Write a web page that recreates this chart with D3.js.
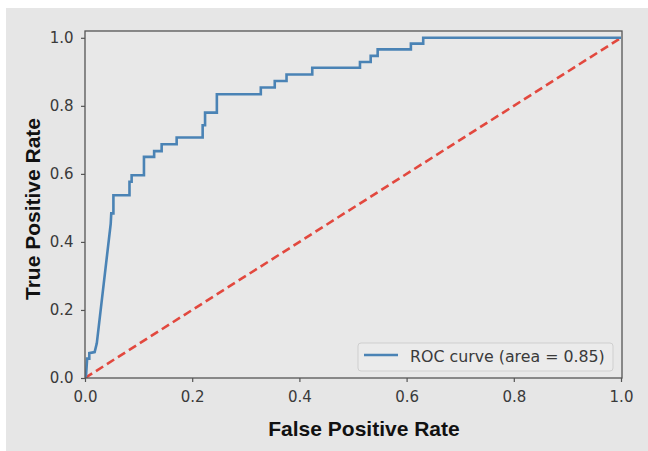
<!DOCTYPE html>
<html>
<head>
<meta charset="utf-8">
<script src="https://cdn.jsdelivr.net/npm/d3@7"></script>
<style>
  html, body { margin: 0; padding: 0; background: #ffffff; }
  svg { display: block; }
</style>
</head>
<body>
<svg id="chart" width="648" height="451"></svg>
<script>
// ---- data ----
const fpr = [0, 0.002, 0.004, 0.008, 0.008, 0.018, 0.022, 0.048, 0.049, 0.053, 0.053,
  0.083, 0.083, 0.087, 0.087, 0.110, 0.110, 0.129, 0.129, 0.143, 0.143, 0.171, 0.171,
  0.2195, 0.2195, 0.224, 0.224, 0.246, 0.246, 0.328, 0.328, 0.354, 0.354, 0.376, 0.376,
  0.424, 0.424, 0.513, 0.513, 0.533, 0.533, 0.546, 0.546, 0.608, 0.608, 0.631, 0.631, 1.0];
const tpr = [0, 0.008, 0.057, 0.057, 0.073, 0.076, 0.102, 0.454, 0.484, 0.484, 0.537,
  0.537, 0.577, 0.577, 0.596, 0.596, 0.650, 0.650, 0.667, 0.667, 0.687, 0.687, 0.707,
  0.707, 0.743, 0.743, 0.780, 0.780, 0.834, 0.834, 0.854, 0.854, 0.873, 0.873, 0.892,
  0.892, 0.912, 0.912, 0.929, 0.929, 0.947, 0.947, 0.966, 0.966, 0.983, 0.983, 1.0, 1.0];
const chanceX = [0, 1];
const chanceY = [0, 1];
const xTicks = [0.0, 0.2, 0.4, 0.6, 0.8, 1.0];
const yTicks = [0.0, 0.2, 0.4, 0.6, 0.8, 1.0];
const rocArea = 0.85;
const xLabel = "False Positive Rate";
const yLabel = "True Positive Rate";

// ---- layout ----
const svg = d3.select("#chart");
const W = 648, H = 451;
const plot = { left: 85, right: 622, top: 31, bottom: 378 };
const bg = "#e6e6e6";

svg.append("rect").attr("x", 6).attr("y", 8).attr("width", W - 6).attr("height", H - 8)
  .attr("fill", bg);

const x = d3.scaleLinear().domain([0, 1]).range([plot.left, 621]);
const y = d3.scaleLinear().domain([0, 1.02]).range([plot.bottom, plot.top]);

// plot area
svg.append("rect").attr("x", plot.left).attr("y", plot.top)
  .attr("width", plot.right - plot.left).attr("height", plot.bottom - plot.top)
  .attr("fill", "#e8e8e8");

svg.append("clipPath").attr("id", "clip").append("rect")
  .attr("x", plot.left).attr("y", plot.top - 3)
  .attr("width", plot.right - plot.left + 3).attr("height", plot.bottom - plot.top + 3);

const g = svg.append("g").attr("clip-path", "url(#clip)");

// chance line
const chance = chanceX.map((v, i) => [v, chanceY[i]]);
g.append("path").datum(chance)
  .attr("d", d3.line().x(d => x(d[0])).y(d => y(d[1])))
  .attr("fill", "none").attr("stroke", "#e2483e").attr("stroke-width", 2.6)
  .attr("stroke-dasharray", "8.5,4.5");

// ROC curve
const roc = fpr.map((v, i) => [v, tpr[i]]);
g.append("path").datum(roc)
  .attr("d", d3.line().x(d => x(d[0])).y(d => y(d[1])))
  .attr("fill", "none").attr("stroke", "#4a83b5").attr("stroke-width", 2.6)
  .attr("stroke-linejoin", "miter");

// axes
const fmt = d3.format(".1f");
const xAxis = svg.append("g").attr("transform", `translate(0,${plot.bottom})`)
  .call(d3.axisBottom(x).tickValues(xTicks).tickFormat(fmt).tickSize(4).tickSizeOuter(0).tickPadding(9));
const yAxis = svg.append("g").attr("transform", `translate(${plot.left},0)`)
  .call(d3.axisLeft(y).tickValues(yTicks).tickFormat(fmt).tickSize(4).tickSizeOuter(0).tickPadding(7.5));
[xAxis, yAxis].forEach(a => {
  a.select(".domain").remove();
  a.selectAll(".tick line").attr("stroke", "#555").attr("stroke-width", 1.2);
  a.selectAll(".tick text").attr("fill", "#3a3a3a")
    .style("font-family", "DejaVu Sans, sans-serif").style("font-size", "15px");
});

// frame
svg.append("rect").attr("x", plot.left).attr("y", plot.top)
  .attr("width", plot.right - plot.left).attr("height", plot.bottom - plot.top)
  .attr("fill", "none").attr("stroke", "#555").attr("stroke-width", 1.3);

// axis labels
svg.append("text").attr("x", 364).attr("y", 436)
  .attr("text-anchor", "middle")
  .style("font-family", "Liberation Sans, Arial, sans-serif").style("font-weight", "bold")
  .style("font-size", "21px").attr("fill", "#111").text(xLabel);
svg.append("text").attr("transform", "translate(40,209) rotate(-90)")
  .attr("text-anchor", "middle")
  .style("font-family", "Liberation Sans, Arial, sans-serif").style("font-weight", "bold")
  .style("font-size", "21px").attr("fill", "#111").text(yLabel);

// legend
const lg = svg.append("g");
lg.append("rect").attr("x", 358).attr("y", 343).attr("width", 255).attr("height", 28)
  .attr("rx", 3).attr("fill", "#ebebeb").attr("stroke", "#cfcfcf").attr("stroke-width", 1);
lg.append("line").attr("x1", 364).attr("x2", 398).attr("y1", 355).attr("y2", 355)
  .attr("stroke", "#4a83b5").attr("stroke-width", 2.6);
lg.append("text").attr("x", 410).attr("y", 362)
  .style("font-family", "DejaVu Sans, sans-serif").style("font-size", "15.8px")
  .attr("fill", "#3a3a3a").text(`ROC curve (area = ${rocArea.toFixed(2)})`);
</script>
</body>
</html>
